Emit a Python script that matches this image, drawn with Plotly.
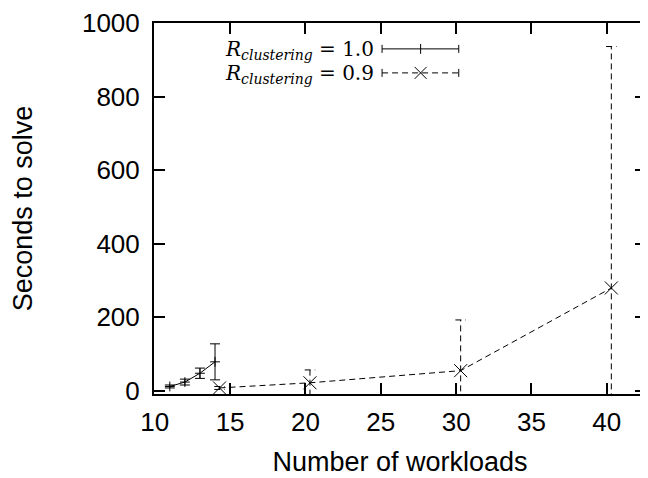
import plotly.graph_objects as go

# ---- data ----
x_r10 = [11, 12, 13, 14]
y_r10 = [11, 23, 47, 78]
e_r10 = [4, 8, 14, 49]

x_r09 = [14.3, 20.3, 30.3, 40.3]
y_r09 = [7, 21, 54, 279]
e_r09 = [4, 35, 138, 657]

x_ticks = [10, 15, 20, 25, 30, 35, 40]
y_ticks = [0, 200, 400, 600, 800, 1000]

label_r10 = "<i>R</i><sub><i>clustering</i></sub> = 1.0"
label_r09 = "<i>R</i><sub><i>clustering</i></sub> = 0.9"

# The page body has an 8px margin; size the figure so it fills the 648x478 window.
OFF = 8
W, H = 648 - OFF, 478 - OFF
L, R, T, B = 146, 0, 9, 84
pw = W - L - R
ph = H - T - B

CAP = 0.35  # half cap width in x units for the custom dashed error bars

fig = go.Figure()

# series R=1.0 : solid line, '+' markers, solid error bars
fig.add_trace(go.Scatter(
    x=x_r10, y=y_r10, mode="lines+markers",
    line=dict(color="black", width=1),
    marker=dict(symbol="cross-thin", size=7, line=dict(color="black", width=1), color="black"),
    error_y=dict(type="data", array=e_r10, visible=True, color="black", thickness=1, width=5),
    showlegend=False, cliponaxis=True,
))

# series R=0.9 : dashed error bars built from the data arrays
ex, ey = [], []
for xv, yv, ev in zip(x_r09, y_r09, e_r09):
    ex += [xv, xv, None, xv - CAP, xv + CAP, None, xv - CAP, xv + CAP, None]
    ey += [yv - ev, yv + ev, None, yv + ev, yv + ev, None, yv - ev, yv - ev, None]
fig.add_trace(go.Scatter(
    x=ex, y=ey, mode="lines",
    line=dict(color="black", width=1, dash="6px,4px"),
    showlegend=False, hoverinfo="skip",
))
fig.add_trace(go.Scatter(
    x=x_r09, y=y_r09, mode="lines+markers",
    line=dict(color="black", width=1, dash="6px,4px"),
    marker=dict(symbol="x-thin", size=13, line=dict(color="black", width=1), color="black"),
    showlegend=False,
))

# ---- custom gnuplot-style key (text on the left, sample on the right) ----
def px(xp):  # window pixel -> paper x
    return (xp - OFF - L) / pw

def py(yp):  # window pixel -> paper y
    return (H - B - (yp - OFF)) / ph

shapes = []
annotations = []
rows = [(43.3, label_r10, "solid", "plus"), (67.7, label_r09, "6px,4px", "x")]
sx0, sx1, sxm = px(383), px(460), px(421.7)
for yrow, txt, dash, mk in rows:
    yy = py(yrow)
    shapes.append(dict(type="line", xref="paper", yref="paper", x0=sx0, x1=sx1, y0=yy, y1=yy,
                       line=dict(color="black", width=1, dash=dash)))
    for xc in (sx0, sx1):
        shapes.append(dict(type="line", xref="paper", yref="paper", xsizemode="pixel", ysizemode="pixel",
                           xanchor=xc, yanchor=yy, x0=0, x1=0, y0=-4, y1=4,
                           line=dict(color="black", width=1)))
    if mk == "plus":
        shapes.append(dict(type="line", xref="paper", yref="paper", xsizemode="pixel", ysizemode="pixel",
                           xanchor=sxm, yanchor=yy, x0=0, x1=0, y0=-5, y1=5,
                           line=dict(color="black", width=1)))
    else:
        for s in (1, -1):
            shapes.append(dict(type="line", xref="paper", yref="paper", xsizemode="pixel", ysizemode="pixel",
                               xanchor=sxm, yanchor=yy, x0=-6, x1=6, y0=-6 * s, y1=6 * s,
                               line=dict(color="black", width=1)))
    annotations.append(dict(text=txt, xref="paper", yref="paper", x=px(377), y=yy,
                            xanchor="right", yanchor="middle", showarrow=False,
                            yshift=-1,
                            font=dict(family="DejaVu Serif", size=20, color="black")))

axis_common = dict(
    showline=True, linecolor="black", linewidth=2, mirror="ticks",
    ticks="inside", ticklen=11, tickwidth=2, tickcolor="black",
    showgrid=False, zeroline=False, ticklabeloverflow="allow",
    tickfont=dict(family="Liberation Sans", size=26, color="black"),
)

fig.update_layout(
    width=W, height=H,
    margin=dict(l=L, r=R, t=T, b=B, pad=0),
    paper_bgcolor="white", plot_bgcolor="white",
    xaxis=dict(range=[9.95, 42.6], tickvals=x_ticks, ticklabelstandoff=4,
               title=dict(text="Number of workloads", standoff=16,
                          font=dict(family="Liberation Sans", size=27, color="black")),
               **axis_common),
    yaxis=dict(range=[-9.5, 1000], tickvals=y_ticks, ticklabelstandoff=7,
               title=dict(text="Seconds to solve", standoff=55,
                          font=dict(family="Liberation Sans", size=27, color="black")),
               **axis_common),
    shapes=shapes,
    annotations=annotations,
    showlegend=False,
)

fig.write_html("out.html")
